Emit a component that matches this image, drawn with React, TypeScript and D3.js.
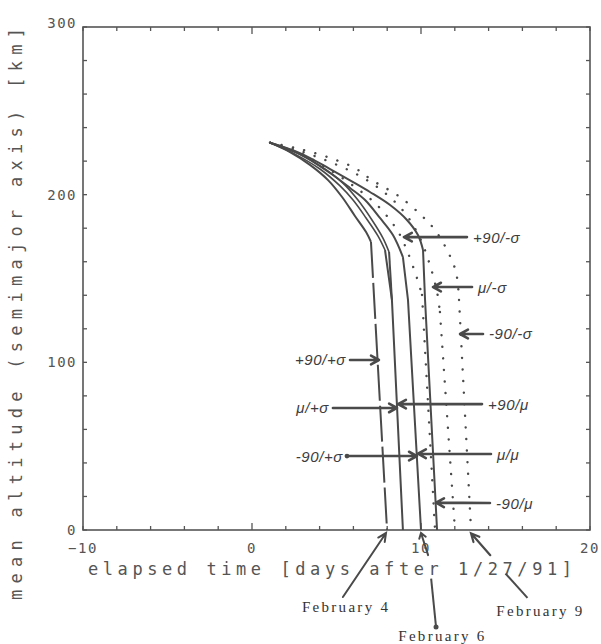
import React from "react";
import * as d3 from "d3";

const W = 601;
const H = 644;

// axis domains and tick values
const xDomain: [number, number] = [-10, 20];
const yDomain: [number, number] = [0, 300];
const xTickLabels = [-10, 0, 10, 20];
const yTickLabels = [0, 100, 200, 300];
const xMinorTicks = [-10, -8, -6, -4, -2, 0, 2, 4, 6, 8, 10, 12, 14, 16, 18, 20];
const xMajorTicks = [0, 10];
const yMinorTicks = [0, 20, 40, 60, 80, 100, 120, 140, 160, 180, 200, 220, 240, 260, 280, 300];

const xTitle = "elapsed time [days after 1/27/91]";
const yTitle = "mean altitude (semimajor axis) [km]";

type P = [number, number];

// decay curves: [days, km]; "upper" = curved part, "lower" = straight part after the bend
const aUpper: P[] = [[1.07, 231], [2.25, 225.4], [3.43, 217.8], [4.5, 208.7], [5.33, 198.6], [6.09, 187.3], [6.75, 177.7], [7.04, 171.8]];
const aLower: P[] = [[7.04, 171.8], [7.99, 0]];

const b1Upper: P[] = [[1.07, 231], [2.54, 224.2], [4.02, 215.3], [5.21, 205.2], [5.98, 196.8], [6.75, 186.1], [7.46, 175.3], [7.87, 167]];
const b1Lower: P[] = [[7.87, 167], [8.28, 137.2], [8.93, 0]];

const b2Upper: P[] = [[1.07, 231], [2.66, 224.8], [4.14, 216.5], [5.38, 206.9], [6.27, 196.8], [7.1, 184.9], [7.75, 174.1], [8.11, 165.8]];
const b2Lower: P[] = [[8.11, 165.8], [8.28, 137.2]];

const cUpper: P[] = [[1.07, 231], [2.84, 224.2], [4.62, 212.9], [5.8, 204.0], [6.69, 196.8], [7.57, 186.1], [8.34, 175.9], [8.93, 162.8]];
const cLower: P[] = [[8.93, 162.8], [9.23, 137.2], [10.0, 0]];

const dUpper: P[] = [[1.07, 231], [2.84, 224.8], [4.62, 215.3], [6.09, 206.9], [6.98, 201.6], [8.17, 193.8], [9.17, 184.9], [9.82, 175.9], [10.12, 167]];
const dLower: P[] = [[10.12, 167], [10.24, 137.2], [10.95, 0]];

// dotted (-sigma) curves
const d2Upper: P[] = [[1.07, 231], [2.84, 224.8], [4.62, 214.7], [6.09, 204.6], [7.28, 195.0], [8.17, 184.9], [8.76, 175.9], [9.23, 165.2], [9.76, 150.3], [10.06, 140.2]];
const d2Lower: P[] = [[10.06, 140.2], [10.83, 0]];

const eUpper: P[] = [[1.07, 231], [2.84, 226.0], [4.62, 219.5], [6.39, 211.1], [7.87, 201.0], [9.05, 189.1], [9.94, 174.1], [10.53, 158.0], [10.95, 141.9], [11.12, 130.0]];
const eLower: P[] = [[11.12, 130.0], [12.01, 0]];

const fUpper: P[] = [[1.07, 231], [2.84, 227.2], [4.62, 221.9], [6.09, 215.9], [7.1, 208.7], [8.76, 198.6], [10.12, 186.7], [10.83, 178.9], [11.54, 167.0], [12.07, 153.9], [12.25, 137.2]];
const fLower: P[] = [[12.25, 137.2], [12.96, 0]];

// scenario labels: text, arrow tail [days, km], arrow tip [days, km], side of text
const labelTexts = ["+90/-σ", "μ/-σ", "-90/-σ", "+90/+σ", "μ/+σ", "+90/μ", "-90/+σ", "μ/μ", "-90/μ"];
const labelTails: P[] = [[12.72, 174.7], [13.02, 144.9], [13.67, 116.9], [5.8, 101.4], [4.79, 72.8], [13.61, 75.1], [5.62, 44.1], [14.14, 45.3], [14.08, 16.1]];
const labelTips: P[] = [[8.99, 174.7], [10.71, 144.9], [12.31, 116.9], [7.51, 101.4], [8.58, 72.8], [8.64, 75.1], [9.76, 44.1], [9.82, 45.5], [10.89, 16.3]];
const labelSides = ["right", "right", "right", "left", "left", "right", "left", "right", "right"];

// date annotations below the axis
const dateTexts = ["February 4", "February 6", "February 9"];
const dateTextPos: P[] = [[5.5, -46], [11.2, -63], [17.0, -48.5]];

export default function App() {
  const x = d3.scaleLinear().domain(xDomain).range([83, 590]);
  const y = d3.scaleLinear().domain(yDomain).range([530, 27]);

  const curved = d3
    .line<P>()
    .x((d) => x(d[0]))
    .y((d) => y(d[1]))
    .curve(d3.curveCatmullRom.alpha(0.5));
  const straight = d3
    .line<P>()
    .x((d) => x(d[0]))
    .y((d) => y(d[1]));

  const ink = "#4a4a4a";
  const axisInk = "#555";

  const arrow = (x1: number, y1: number, x2: number, y2: number, len = 9, ang = 0.5) => {
    const a = Math.atan2(y2 - y1, x2 - x1);
    const p1x = x2 - len * Math.cos(a - ang);
    const p1y = y2 - len * Math.sin(a - ang);
    const p2x = x2 - len * Math.cos(a + ang);
    const p2y = y2 - len * Math.sin(a + ang);
    return `M${x1},${y1}L${x2},${y2}M${p1x},${p1y}L${x2},${y2}L${p2x},${p2y}`;
  };

  const solidUppers = [aUpper, b1Upper, b2Upper, cUpper, dUpper];
  const solidLowers = [b1Lower, b2Lower, cLower, dLower];
  const dotUppers = [d2Upper, eUpper, fUpper];
  const dotLowers = [d2Lower, eLower, fLower];

  const dotStyle = {
    fill: "none",
    stroke: ink,
    strokeWidth: 2.4,
    strokeLinecap: "round" as const,
    strokeDasharray: "0.1,11.5",
  };

  const monoFont = "'DejaVu Sans Mono', monospace";

  // date arrows
  const feb4Tail: P = [5.38, -40];
  const feb4Tip: P = [7.93, -1.8];
  const feb6Low: [P, P] = [[10.89, -57.8], [10.6, -29]];
  const feb6High: [P, P] = [[10.42, -15], [10.0, -1.8]];
  const feb9Low: [P, P] = [[16.3, -40.5], [15.0, -26]];
  const feb9High: [P, P] = [[14.1, -15], [12.96, -2]];

  return (
    <svg width={W} height={H} style={{ display: "block", position: "absolute", left: 0, top: 0, background: "#fff" }}>
      <rect x={0} y={0} width={W} height={H} fill="#fff" />
      {/* frame */}
      <rect
        x={x(xDomain[0])}
        y={y(yDomain[1])}
        width={x(xDomain[1]) - x(xDomain[0])}
        height={y(yDomain[0]) - y(yDomain[1])}
        fill="none"
        stroke={axisInk}
        strokeWidth={1.6}
      />
      {/* x ticks, bottom and top, inward */}
      {xMinorTicks.map((t) => {
        const len = xMajorTicks.includes(t) ? 7 : 4;
        return (
          <g key={"xt" + t}>
            <line x1={x(t)} x2={x(t)} y1={y(0)} y2={y(0) - len} stroke={axisInk} strokeWidth={1.3} />
            <line x1={x(t)} x2={x(t)} y1={y(300)} y2={y(300) + len} stroke={axisInk} strokeWidth={1.3} />
          </g>
        );
      })}
      {/* y ticks, left and right, inward */}
      {yMinorTicks.map((t) => (
        <g key={"yt" + t}>
          <line x1={x(-10)} x2={x(-10) + 4} y1={y(t)} y2={y(t)} stroke={axisInk} strokeWidth={1.3} />
          <line x1={x(20)} x2={x(20) - 4} y1={y(t)} y2={y(t)} stroke={axisInk} strokeWidth={1.3} />
        </g>
      ))}
      {/* tick labels */}
      {xTickLabels.map((t) => (
        <text
          key={"xl" + t}
          x={x(t)}
          y={y(0) + 18}
          textAnchor="middle"
          dominantBaseline="central"
          fontFamily={monoFont}
          fontSize={14}
          letterSpacing={1.5}
          fill={axisInk}
        >
          {t === -10 ? "−10" : String(t)}
        </text>
      ))}
      {yTickLabels.map((t) => (
        <text
          key={"yl" + t}
          x={77}
          y={y(t) - (t === 300 ? 4 : 0)}
          textAnchor="end"
          dominantBaseline="central"
          fontFamily={monoFont}
          fontSize={14}
          letterSpacing={1.5}
          fill={axisInk}
        >
          {String(t)}
        </text>
      ))}
      {/* axis titles */}
      <text
        x={88}
        y={569}
        dominantBaseline="central"
        fontFamily={monoFont}
        fontSize={17}
        textLength={484}
        lengthAdjust="spacing"
        fill={axisInk}
      >
        {xTitle}
      </text>
      <text
        transform={`translate(16,${314}) rotate(-90)`}
        x={-286}
        y={0}
        dominantBaseline="central"
        fontFamily={monoFont}
        fontSize={17}
        textLength={572}
        lengthAdjust="spacing"
        fill={axisInk}
      >
        {yTitle}
      </text>

      {/* solid curves */}
      {solidUppers.map((d, i) => (
        <path key={"su" + i} d={curved(d) || ""} fill="none" stroke={ink} strokeWidth={i === 1 || i === 2 ? 1.6 : 2} />
      ))}
      {solidLowers.map((d, i) => (
        <path key={"sl" + i} d={straight(d) || ""} fill="none" stroke={ink} strokeWidth={2} />
      ))}
      {/* dashed lower part of the leftmost curve */}
      <path d={straight(aLower) || ""} fill="none" stroke={ink} strokeWidth={2} strokeDasharray="36,5" />
      {/* dotted curves */}
      {dotUppers.map((d, i) => (
        <path key={"du" + i} d={curved(d) || ""} {...dotStyle} />
      ))}
      {dotLowers.map((d, i) => (
        <path key={"dl" + i} d={straight(d) || ""} {...dotStyle} />
      ))}

      {/* scenario labels with arrows */}
      {labelTexts.map((t, i) => {
        const tx = x(labelTails[i][0]);
        const ty = y(labelTails[i][1]);
        const hx = x(labelTips[i][0]);
        const hy = y(labelTips[i][1]);
        const right = labelSides[i] === "right";
        return (
          <g key={"lab" + i}>
            <path d={arrow(tx, ty, hx, hy)} fill="none" stroke={ink} strokeWidth={2.6} strokeLinecap="round" strokeLinejoin="round" />
            {i === 6 ? <circle cx={tx} cy={ty} r={2.4} fill={ink} /> : null}
            <text
              x={right ? tx + 6 : tx - 4}
              y={ty}
              textAnchor={right ? "start" : "end"}
              dominantBaseline="central"
              fontFamily="'Liberation Sans', Arial, sans-serif"
              fontStyle="italic"
              fontSize={15}
              letterSpacing={0.6}
              fill="#3c3c3c"
            >
              {t}
            </text>
          </g>
        );
      })}

      {/* date annotations */}
      <path
        d={arrow(x(feb4Tail[0]), y(feb4Tail[1]), x(feb4Tip[0]), y(feb4Tip[1]), 9, 0.45)}
        fill="none"
        stroke={ink}
        strokeWidth={2}
        strokeLinecap="round"
      />
      <path d={straight(feb6Low) || ""} fill="none" stroke={ink} strokeWidth={2} />
      <circle cx={x(feb6Low[0][0])} cy={y(feb6Low[0][1])} r={2.5} fill={ink} />
      <path
        d={arrow(x(feb6High[0][0]), y(feb6High[0][1]), x(feb6High[1][0]), y(feb6High[1][1]), 6, 0.6)}
        fill="none"
        stroke={ink}
        strokeWidth={2}
        strokeLinecap="round"
      />
      <path d={straight(feb9Low) || ""} fill="none" stroke={ink} strokeWidth={2} />
      <path
        d={arrow(x(feb9High[0][0]), y(feb9High[0][1]), x(feb9High[1][0]), y(feb9High[1][1]), 9, 0.45)}
        fill="none"
        stroke={ink}
        strokeWidth={2.2}
        strokeLinecap="round"
      />
      {dateTexts.map((t, i) => (
        <text
          key={"dt" + i}
          x={x(dateTextPos[i][0])}
          y={y(dateTextPos[i][1])}
          textAnchor="middle"
          dominantBaseline="central"
          fontFamily="'Liberation Serif', serif"
          fontSize={15}
          textLength={86}
          lengthAdjust="spacing"
          fill="#333"
        >
          {t}
        </text>
      ))}
    </svg>
  );
}
